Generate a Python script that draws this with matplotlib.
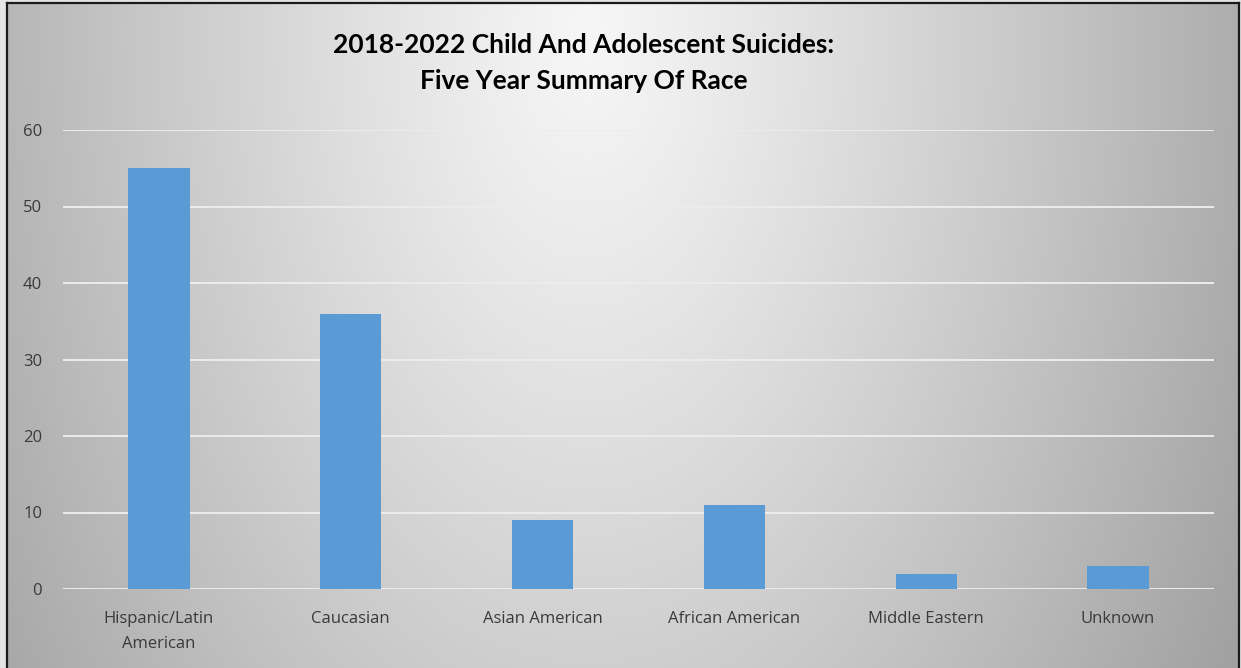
import numpy as np
import matplotlib.pyplot as plt

categories = ['Hispanic/Latin\nAmerican', 'Caucasian', 'Asian American',
              'African American', 'Middle Eastern', 'Unknown']
counts = [55, 36, 9, 11, 2, 3]
yticks = [0, 10, 20, 30, 40, 50, 60]
title = '2018-2022 Child And Adolescent Suicides:\nFive Year Summary Of Race'

W, H = 1241, 668
fig = plt.figure(figsize=(W / 100, H / 100), dpi=100)
fig.patch.set_facecolor('#e4e4e4')

# background panel with radial (elliptical) gradient
bx0, bx1, by_top = 7, 1239, 3
bg = fig.add_axes([bx0 / W, 0, (bx1 - bx0) / W, (H - by_top) / H], zorder=0)
nx, ny = bx1 - bx0, H - by_top
xx, yy = np.meshgrid(np.arange(nx), np.arange(ny))
cx, cy = 580, 30
d = np.sqrt(((xx - cx) / 660) ** 2 + ((yy - cy) / 1100) ** 2)
d = np.clip(d, 0, 1.2)
g = 0.965 - 0.29 * d ** 1.15
img = np.dstack([g, g, g])
bg.imshow(img, aspect='auto', extent=(0, nx, ny, 0), interpolation='bilinear')
bg.set_xlim(0, nx)
bg.set_ylim(ny, 0)
bg.set_xticks([])
bg.set_yticks([])
for side in ['left', 'top', 'right']:
    bg.spines[side].set_color('#1a1a1a')
    bg.spines[side].set_linewidth(1.6)
bg.spines['bottom'].set_visible(False)

# chart area
ax = fig.add_axes([63 / W, 1 - 589 / H, (1214 - 63) / W, (589 - 130) / H], zorder=1)
ax.patch.set_alpha(0)
x = np.arange(len(categories))
ax.bar(x, counts, width=0.32, color='#5b9bd5', zorder=3)
ax.set_xlim(-0.5, len(categories) - 0.5)
ax.set_ylim(0, 60)
ax.set_yticks(yticks)
ax.set_xticks(x)
ax.set_xticklabels(categories, fontsize=12, color='#3a3a3a', family='Open Sans',
                   linespacing=1.75)
ax.set_yticklabels([str(v) for v in yticks], fontsize=12, color='#3a3a3a',
                   family='Open Sans')
ax.tick_params(axis='both', length=0)
ax.tick_params(axis='y', pad=15)
ax.tick_params(axis='x', pad=16)
ax.grid(axis='y', color='#ececec', linewidth=1.4, zorder=1)
ax.set_axisbelow(True)
for s in ax.spines.values():
    s.set_visible(False)

fig.text(584 / W, 1 - 63 / H, title, ha='center', va='center', fontsize=19,
         fontweight='bold', family='Lato', color='black', linespacing=1.6)

fig.savefig('out.png', dpi=100)
